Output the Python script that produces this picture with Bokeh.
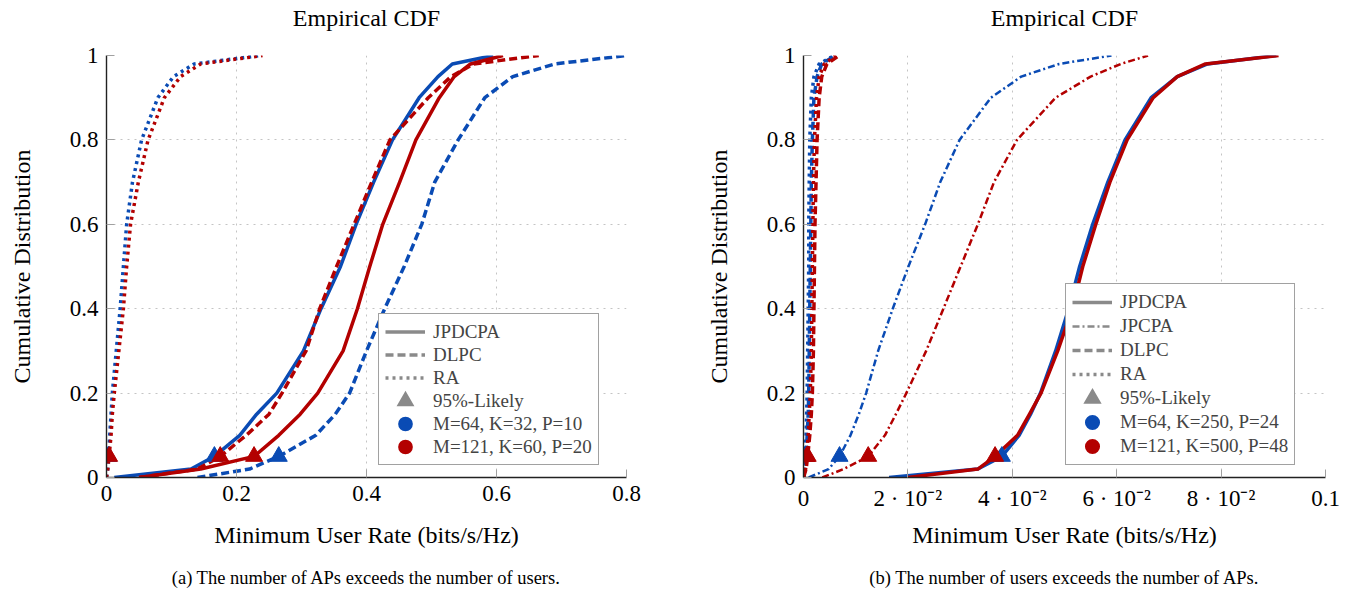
from bokeh.plotting import figure
from bokeh.models import Range1d, FixedTicker, Legend, LegendItem, LinearAxis
from bokeh.layouts import row
from bokeh.embed import file_html
from bokeh.resources import INLINE

NAN = float("nan")

levels = [0, 0.02, 0.05, 0.1, 0.15, 0.2, 0.3, 0.4, 0.5, 0.6, 0.7, 0.8, 0.9, 0.95, 0.98, 1.0]

# ---- Panel (a): M=64,K=32,P=10 (blue) / M=121,K=60,P=20 (red)
a_blue_jpdcpa = [0.012, 0.13, 0.166, 0.205, 0.231, 0.262, 0.303, 0.330, 0.360, 0.384, 0.411, 0.440, 0.481, 0.510, 0.532, 0.595]
a_blue_dlpc   = [0.14, 0.22, 0.265, 0.322, 0.352, 0.374, 0.400, 0.428, 0.458, 0.485, 0.505, 0.541, 0.582, 0.625, 0.690, 0.800]
a_blue_ra     = [0.0, 0.002, 0.003, 0.005, 0.007, 0.009, 0.015, 0.021, 0.026, 0.031, 0.040, 0.054, 0.079, 0.103, 0.135, 0.237]
a_red_jpdcpa  = [0.05, 0.145, 0.227, 0.265, 0.298, 0.325, 0.364, 0.386, 0.405, 0.425, 0.451, 0.476, 0.512, 0.535, 0.560, 0.610]
a_red_dlpc    = [0.05, 0.14, 0.175, 0.215, 0.250, 0.270, 0.307, 0.328, 0.354, 0.381, 0.408, 0.436, 0.495, 0.530, 0.565, 0.665]
a_red_ra      = [0.0, 0.002, 0.004, 0.007, 0.009, 0.012, 0.019, 0.026, 0.031, 0.037, 0.049, 0.064, 0.089, 0.114, 0.145, 0.240]

# ---- Panel (b): M=64,K=250,P=24 (blue) / M=121,K=500,P=48 (red)
b_blue_jpdcpa = [0.0164, 0.0334, 0.0380, 0.0413, 0.0435, 0.0454, 0.0483, 0.0508, 0.0529, 0.0554, 0.0583, 0.0616, 0.0666, 0.0716, 0.0774, 0.0906]
b_blue_jpcpa  = [0.0010, 0.0048, 0.0069, 0.0090, 0.0106, 0.0120, 0.0143, 0.0171, 0.0201, 0.0233, 0.0262, 0.0299, 0.0359, 0.0417, 0.0490, 0.0590]
b_blue_dlpc   = [0.0, 0.0003, 0.0005, 0.0007, 0.0009, 0.0010, 0.0011, 0.0012, 0.0013, 0.0014, 0.0015, 0.0017, 0.0020, 0.0026, 0.0035, 0.0060]
b_blue_ra     = [0.0, 0.0002, 0.0003, 0.0005, 0.0006, 0.0007, 0.0008, 0.0009, 0.0010, 0.0010, 0.0011, 0.0012, 0.0015, 0.0020, 0.0030, 0.0058]
b_red_jpdcpa  = [0.0200, 0.0334, 0.0367, 0.0410, 0.0433, 0.0455, 0.0487, 0.0515, 0.0535, 0.0560, 0.0587, 0.0620, 0.0670, 0.0716, 0.0770, 0.0910]
b_red_jpcpa   = [0.0036, 0.0077, 0.0124, 0.0156, 0.0177, 0.0197, 0.0235, 0.0268, 0.0301, 0.0334, 0.0365, 0.0409, 0.0483, 0.0550, 0.0608, 0.0660]
b_red_dlpc    = [0.0, 0.0005, 0.0008, 0.0012, 0.0015, 0.0017, 0.0019, 0.0020, 0.0021, 0.0022, 0.0024, 0.0026, 0.0030, 0.0035, 0.0045, 0.0068]
b_red_ra      = [0.0, 0.0004, 0.0006, 0.0009, 0.0011, 0.0013, 0.0015, 0.0016, 0.0017, 0.0018, 0.0019, 0.0021, 0.0025, 0.0030, 0.0040, 0.0062]

y_ticks = [0, 0.2, 0.4, 0.6, 0.8, 1.0]
y_tick_labels = ["0", "0.2", "0.4", "0.6", "0.8", "1"]
a_x_ticks = [0, 0.2, 0.4, 0.6, 0.8]
a_x_tick_labels = ["0", "0.2", "0.4", "0.6", "0.8"]
b_x_ticks = [0, 0.02, 0.04, 0.06, 0.08, 0.1]
b_x_tick_labels = ["0", "2 · 10⁻²", "4 · 10⁻²", "6 · 10⁻²", "8 · 10⁻²", "0.1"]

a_legend_config = ["M=64, K=32, P=10", "M=121, K=60, P=20"]
b_legend_config = ["M=64, K=250, P=24", "M=121, K=500, P=48"]

title_text = "Empirical CDF"
x_label = "Minimum User Rate (bits/s/Hz)"
y_label = "Cumulative Distribution"
a_caption = "(a) The number of APs exceeds the number of users."
b_caption = "(b) The number of users exceeds the number of APs."

BLUE = "#0a4bb4"
RED = "#b30000"
GRAY = "#8a8a8a"
FONT = "Liberation Serif"
FRAME_H = 422

STYLES = {
    "JPDCPA": dict(line_dash="solid", line_width=3.5),
    "JPCPA": dict(line_dash="7 3 2 3", line_width=2.5),
    "DLPC": dict(line_dash="8 4", line_width=3.5),
    "RA": dict(line_dash="3 4", line_width=3.5),
}


def text_axis(label, size, standoff, bounds="auto"):
    """An axis with no ticks, used only to place a text line outside the frame."""
    return LinearAxis(ticker=FixedTicker(ticks=[]), bounds=bounds, axis_label=label,
                      axis_line_color=None, major_tick_line_color=None,
                      minor_tick_line_color=None, major_tick_in=0, major_tick_out=0,
                      minor_tick_in=0, minor_tick_out=0, major_label_standoff=0,
                      axis_label_standoff=standoff, axis_label_text_font=FONT,
                      axis_label_text_font_size=size, axis_label_text_font_style="normal",
                      axis_label_text_color="black")


def make_panel(series, x_max, x_ticks, x_tick_labels, configs, caption,
               border_left, border_right, frame_w, legend_loc, glyph_h,
               xlabel_standoff, cap_bounds):
    p = figure(frame_width=frame_w, frame_height=FRAME_H,
               min_border_left=border_left, min_border_right=border_right,
               min_border_top=55, min_border_bottom=113,
               x_range=Range1d(0, x_max), y_range=Range1d(0, 1),
               output_backend="svg", toolbar_location=None)
    p.outline_line_color = None
    p.background_fill_color = "white"

    for ax in (p.xaxis[0], p.yaxis[0]):
        ax.axis_line_color = "#222"
        ax.axis_line_width = 1.4
        ax.major_tick_line_color = "#a0a0a0"
        ax.major_tick_in = 8
        ax.major_tick_out = 0
        ax.minor_tick_line_color = None
        ax.major_label_text_font = FONT
        ax.major_label_text_font_size = "23px"
        ax.major_label_text_color = "black"
        ax.axis_label_text_font = FONT
        ax.axis_label_text_font_size = "24px"
        ax.axis_label_text_font_style = "normal"
        ax.axis_label_text_color = "black"

    p.xaxis.ticker = FixedTicker(ticks=x_ticks)
    p.xaxis.major_label_overrides = dict(zip(x_ticks, x_tick_labels))
    p.yaxis.ticker = FixedTicker(ticks=y_ticks)
    p.yaxis.major_label_overrides = dict(zip(y_ticks, y_tick_labels))
    p.xaxis.axis_label = x_label
    p.yaxis.axis_label = y_label
    p.xaxis.major_label_standoff = 8
    p.yaxis.major_label_standoff = 8
    p.xaxis.axis_label_standoff = xlabel_standoff
    p.yaxis.axis_label_standoff = 32

    for g in (p.xgrid[0], p.ygrid[0]):
        g.grid_line_color = "#c4c4c4"
        g.grid_line_dash = "2 5"
        g.grid_line_width = 1

    # curves
    for color in (BLUE, RED):
        for (c, name), xs in series:
            if c != color:
                continue
            p.line(xs, levels, line_color=color, line_join="round", **STYLES[name])
    # 95%-likely markers (CDF level 0.05)
    idx = levels.index(0.05)
    for color in (BLUE, RED):
        tx = [xs[idx] for (c, _), xs in series if c == color]
        p.scatter(tx, [levels[idx]] * len(tx), marker="triangle", size=17,
                  fill_color=color, line_color=color)

    # legend entries (proxy renderers with no visible data)
    items = []
    methods = [n for n in ("JPDCPA", "JPCPA", "DLPC", "RA") if any(s[0][1] == n for s in series)]
    for m in methods:
        r = p.line([NAN], [NAN], line_color=GRAY, **STYLES[m])
        items.append(LegendItem(label=m, renderers=[r]))
    r = p.scatter([NAN], [NAN], marker="triangle", fill_color=GRAY, line_color=GRAY,
                  line_width=5, line_join="miter")
    items.append(LegendItem(label="95%-Likely", renderers=[r]))
    for color, lab in zip((BLUE, RED), configs):
        r = p.scatter([NAN], [NAN], marker="circle", fill_color=color, line_color=color,
                      line_width=5.5)
        items.append(LegendItem(label=lab, renderers=[r]))
    leg = Legend(items=items, location=legend_loc)
    leg.label_text_font = FONT
    leg.label_text_font_size = "19px"
    leg.glyph_width = 40
    leg.glyph_height = glyph_h
    leg.label_height = 20
    leg.spacing = 0
    leg.padding = 6
    leg.margin = 0
    leg.label_standoff = 8
    leg.border_line_color = "#444"
    leg.border_line_width = 1
    leg.background_fill_alpha = 1
    p.add_layout(leg)

    p.add_layout(text_axis(title_text, "24px", 25), "above")
    p.add_layout(text_axis(caption, "18.5px", 17, cap_bounds), "below")
    return p


series_a = [((BLUE, "JPDCPA"), a_blue_jpdcpa), ((BLUE, "DLPC"), a_blue_dlpc), ((BLUE, "RA"), a_blue_ra),
            ((RED, "JPDCPA"), a_red_jpdcpa), ((RED, "DLPC"), a_red_dlpc), ((RED, "RA"), a_red_ra)]
series_b = [((BLUE, "JPDCPA"), b_blue_jpdcpa), ((BLUE, "JPCPA"), b_blue_jpcpa), ((BLUE, "DLPC"), b_blue_dlpc),
            ((BLUE, "RA"), b_blue_ra),
            ((RED, "JPDCPA"), b_red_jpdcpa), ((RED, "JPCPA"), b_red_jpcpa), ((RED, "DLPC"), b_red_dlpc),
            ((RED, "RA"), b_red_ra)]

pa = make_panel(series_a, 0.8, a_x_ticks, a_x_tick_labels, a_legend_config, a_caption,
                106, 54, 520, (272, 12), 23, 18, (0.0462, 0.6462))
pb = make_panel(series_b, 0.1, b_x_ticks, b_x_tick_labels, b_legend_config, b_caption,
                123, 29, 522, (262, 12), 24, 8, (0.0131, 0.0731))

layout = row(pa, pb)
open("out.html", "w").write(file_html(layout, INLINE))
